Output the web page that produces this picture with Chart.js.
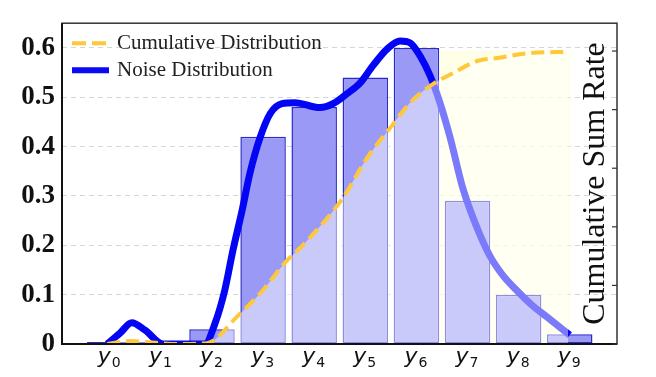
<!DOCTYPE html>
<html><head><meta charset="utf-8">
<script src="https://cdn.jsdelivr.net/npm/chart.js@4.4.1/dist/chart.umd.min.js"></script>
<style>html,body{margin:0;padding:0;background:#fff}#wrap{width:656px;height:377px;position:relative}</style>
</head><body><div id="wrap"><canvas id="c"></canvas></div>
<script>
// ---- data ----
const categories = ['y₀','y₁','y₂','y₃','y₄','y₅','y₆','y₇','y₈','y₉'];
const categoryBase = 'y';
const categorySubscripts = ['0','1','2','3','4','5','6','7','8','9'];
const barValues = [0.004, 0.004, 0.03, 0.42, 0.48, 0.54, 0.60, 0.29, 0.10, 0.02];
const noiseX = [-0.05,0.2,0.43,0.69,1.04,1.57,1.86,2.06,2.25,2.41,2.59,2.74,2.94,3.14,3.37,3.62,4.11,4.37,4.64,4.90,5.15,5.43,5.68,5.88,6.07,6.27,6.46,6.66,6.91,7.2,7.44,7.7,7.97,8.25,8.55,9.0];
const noiseY = [0,0.022,0.043,0.028,0,0,0,0.042,0.109,0.19,0.271,0.345,0.418,0.467,0.487,0.489,0.479,0.487,0.507,0.529,0.564,0.598,0.614,0.610,0.584,0.543,0.489,0.418,0.315,0.232,0.178,0.138,0.108,0.08,0.055,0.018];
const cumulativeX = [-0.05,0.4,0.9,1.3,1.9,2.5,2.98,3.43,3.82,4.56,5.03,5.48,5.88,6.33,6.72,7.19,7.58,8.22,8.97];
const cumulativeY = [0,0.01,0.004,0,0.003,0.095,0.18,0.278,0.345,0.498,0.634,0.736,0.824,0.888,0.925,0.966,0.976,0.993,0.997];
const leftTickValues = [0, 0.1, 0.2, 0.3, 0.4, 0.5, 0.6];
const rightTickValues = [0, 0.2, 0.4, 0.6, 0.8, 1.0];
const highlightRange = [6.46, 9.0];
const highlightTop = 1.0;
const seriesNames = ['Cumulative Distribution', 'Noise Distribution'];
const rightTitle = 'Cumulative Sum Rate';

const serif = "'Liberation Serif', 'Times New Roman', serif";

const highlightPlugin = {
  id: 'highlight',
  beforeDatasetsDraw(chart) {
    const {ctx, scales: {x, y2}} = chart;
    const x0 = x.getPixelForValue(highlightRange[0]);
    const x1 = x.getPixelForValue(highlightRange[1]);
    const yt = y2.getPixelForValue(highlightTop);
    const yb = y2.getPixelForValue(0);
    ctx.save();
    ctx.fillStyle = 'rgba(255,255,205,0.45)';
    ctx.fillRect(x0, yt, x1 - x0, yb - yt);
    ctx.restore();
  }
};

const decorPlugin = {
  id: 'decor',
  afterDraw(chart) {
    const {ctx, chartArea: a, scales: {x, y2}} = chart;
    ctx.save();
    // frame
    ctx.strokeStyle = '#333';
    ctx.lineWidth = 1.5;
    ctx.strokeRect(a.left, a.top, a.right - a.left, a.bottom - a.top);
    ctx.strokeStyle = '#111';
    ctx.lineWidth = 2;
    ctx.beginPath();
    ctx.moveTo(a.left, a.top); ctx.lineTo(a.left, a.bottom); ctx.lineTo(a.right, a.bottom);
    ctx.stroke();
    // inward right ticks
    ctx.strokeStyle = '#333';
    ctx.lineWidth = 1.2;
    rightTickValues.forEach(v => {
      const yy = y2.getPixelForValue(v);
      ctx.beginPath(); ctx.moveTo(a.right - 5, yy); ctx.lineTo(a.right, yy); ctx.stroke();
    });
    ctx.restore();

    // x category labels: italic y with upright subscript digit
    ctx.save();
    ctx.fillStyle = '#111';
    ctx.textBaseline = 'alphabetic';
    categorySubscripts.forEach((d, i) => {
      const cx = x.getPixelForValue(i);
      ctx.font = 'italic 22px "DejaVu Sans", sans-serif';
      const wy = ctx.measureText(categoryBase).width;
      ctx.font = '14px "DejaVu Sans", sans-serif';
      const wd = ctx.measureText(d).width;
      const start = cx - (wy + wd) / 2 - 1;
      ctx.font = 'italic 22px "DejaVu Sans", sans-serif';
      ctx.textAlign = 'left';
      ctx.fillText(categoryBase, start, a.bottom + 19);
      ctx.font = '14px "DejaVu Sans", sans-serif';
      ctx.fillText(d, start + wy + 1, a.bottom + 23);
    });
    ctx.restore();

    // right title inside plot
    ctx.save();
    ctx.fillStyle = '#111';
    ctx.font = '32px ' + serif;
    ctx.textAlign = 'center';
    ctx.textBaseline = 'middle';
    ctx.translate(a.right - 21, (y2.getPixelForValue(0) + y2.getPixelForValue(1.0)) / 2 - 14);
    ctx.rotate(-Math.PI / 2);
    ctx.fillText(rightTitle, 0, 0);
    ctx.restore();

    // legend inside plot
    ctx.save();
    const lx = a.left + 10, ly1 = a.top + 20, ly2 = a.top + 47;
    ctx.lineCap = 'butt';
    ctx.strokeStyle = '#FFC83A';
    ctx.lineWidth = 4;
    ctx.setLineDash([14, 6]);
    ctx.beginPath(); ctx.moveTo(lx, ly1); ctx.lineTo(lx + 36, ly1); ctx.stroke();
    ctx.setLineDash([]);
    ctx.strokeStyle = '#0a0af5';
    ctx.lineWidth = 6;
    ctx.beginPath(); ctx.moveTo(lx, ly2); ctx.lineTo(lx + 37, ly2); ctx.stroke();
    ctx.fillStyle = '#222';
    ctx.font = '21px ' + serif;
    ctx.textAlign = 'left';
    ctx.textBaseline = 'middle';
    ctx.fillText(seriesNames[0], lx + 45, ly1);
    ctx.fillText(seriesNames[1], lx + 45, ly2);
    ctx.restore();
  }
};

new Chart(document.getElementById('c'), {
  type: 'bar',
  data: {
    datasets: [
      {
        type: 'line',
        label: seriesNames[0],
        data: cumulativeX.map((x, i) => ({x, y: cumulativeY[i]})),
        yAxisID: 'y2',
        borderColor: '#FFC83A',
        borderWidth: 4,
        borderDash: [13, 6],
        pointRadius: 0,
        cubicInterpolationMode: 'monotone',
        fill: 'origin',
        backgroundColor: 'rgba(255,255,255,0.47)',
        order: 1
      },
      {
        type: 'line',
        label: seriesNames[1],
        data: noiseX.map((x, i) => ({x, y: noiseY[i]})),
        yAxisID: 'y',
        borderColor: '#0505f5',
        borderWidth: 7,
        pointRadius: 0,
        cubicInterpolationMode: 'monotone',
        fill: false,
        order: 2
      },
      {
        type: 'bar',
        label: 'bars',
        data: barValues.map((v, i) => ({x: i, y: v})),
        yAxisID: 'y',
        backgroundColor: '#9a9af6',
        borderColor: '#2a2ac8',
        borderWidth: 1.5,
        borderSkipped: false,
        barPercentage: 0.89,
        categoryPercentage: 1.0,
        order: 3
      }
    ]
  },
  options: {
    responsive: true,
    maintainAspectRatio: false,
    animation: false,
    layout: {padding: {top: 22, left: 0, right: 0, bottom: 0}},
    plugins: {legend: {display: false}, tooltip: {enabled: false}},
    scales: {
      x: {
        type: 'linear',
        min: -0.935,
        max: 9.925,
        offset: false,
        grid: {display: false, offset: false},
        border: {display: false},
        afterBuildTicks: s => { s.ticks = categories.map((_, i) => ({value: i})); },
        afterFit: s => { s.height = 33; },
        ticks: {display: false}
      },
      y: {
        position: 'left',
        min: 0,
        max: 0.65,
        afterBuildTicks: s => { s.ticks = leftTickValues.map(v => ({value: v})); },
        afterFit: s => { s.width = 62; },
        grid: {color: '#d6d6d6', lineWidth: 1, drawTicks: false},
        border: {display: false, dash: [5, 4]},
        ticks: {
          color: '#111',
          padding: 7,
          font: {family: serif, size: 27, weight: 'bold'},
          callback: v => (v === 0 ? '0' : v.toFixed(1))
        }
      },
      y2: {
        position: 'right',
        min: 0,
        max: 1.095,
        afterFit: s => { s.width = 39; },
        grid: {drawOnChartArea: false, drawTicks: false},
        border: {display: false},
        ticks: {display: false}
      }
    }
  },
  plugins: [highlightPlugin, decorPlugin]
});
</script>
</body></html>
